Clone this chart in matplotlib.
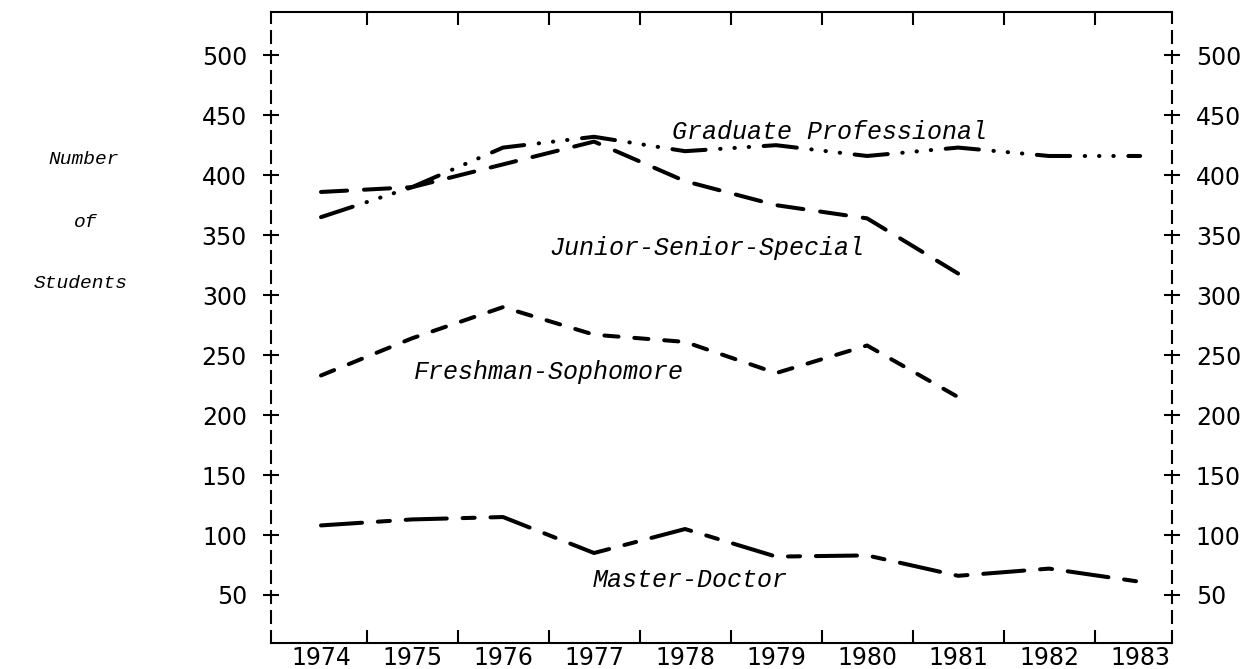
import numpy as np
import matplotlib
matplotlib.use("Agg")
import matplotlib.pyplot as plt

# values (number of students per year)
years = [1974, 1975, 1976, 1977, 1978, 1979, 1980, 1981, 1982, 1983]
graduate_prof = [365, 390, 423, 432, 420, 425, 416, 423, 416, 416]
junior_senior = [386, 390, 409, 428, 395, 375, 364, 318]
freshman_soph = [233, 264, 290, 267, 261, 235, 258, 215]
master_doctor = [108, 113, 115, 85, 105, 82, 83, 66, 72, 61]

y_ticks = [50, 100, 150, 200, 250, 300, 350, 400, 450, 500]

plt.rcParams['lines.scale_dashes'] = False

fig = plt.figure(figsize=(12.44, 6.69), dpi=100)
ax = fig.add_axes([0.2178, 0.0389, 0.9421 - 0.2178, 0.982 - 0.0389])

lw = 2.9
ax.plot(years, graduate_prof, color='black', lw=lw, dash_capstyle='round',
        dashes=(24, 10.5, 0.3, 10, 0.3, 10, 0.3, 10.5))
ax.plot(years[:len(junior_senior)], junior_senior, color='black', lw=lw,
        dash_capstyle='round', dashes=(18.8, 12.2))
ax.plot(years[:len(freshman_soph)], freshman_soph, color='black', lw=lw,
        dash_capstyle='round', dashes=(10.2, 11.4))
ax.plot(years, master_doctor, color='black', lw=lw, dash_capstyle='round',
        dashes=(29.6, 11.4, 8.7, 11.4))

ax.set_xlim(1973.45, 1983.35)
ax.set_ylim(10, 536)

# labels on the lines
label_font = dict(family='Liberation Mono', style='italic', size=18,
                  ha='center', va='center')
ax.text(1979.59, 436, 'Graduate Professional', **label_font)
ax.text(1978.24, 339, 'Junior-Senior-Special', **label_font)
ax.text(1976.5, 236, 'Freshman-Sophomore', **label_font)
ax.text(1978.06, 62.5, 'Master-Doctor', **label_font)

# spines: solid top/bottom, dashed sides
for side in ['left', 'right']:
    ax.spines[side].set_linestyle((0, (8.6, 5.8)))
    ax.spines[side].set_linewidth(1.5)
for side in ['top', 'bottom']:
    ax.spines[side].set_linewidth(1.5)

# x: year labels at centres, tick marks between years
ax.set_xticks(years)
ax.set_xticklabels([str(y) for y in years])
ax.set_xticks([y + 0.5 for y in years[:-1]], minor=True)
ax.tick_params(axis='x', which='major', length=0, pad=2, labelsize=17)
ax.tick_params(axis='x', which='minor', direction='in', length=9.4,
               width=1.5, top=True, bottom=True)

# y: crossing ticks on both sides with labels
ax.set_yticks(y_ticks)
ax.tick_params(axis='y', direction='inout', length=11.5, width=1.5,
               left=True, right=True, labelleft=True, labelright=True,
               labelsize=17, pad=11.5)

side_font = dict(family='Liberation Mono', style='italic', size=14,
                 ha='center', va='center')
fig.text(84 / 1244, 1 - 160 / 669, 'Number', **side_font)
fig.text(86 / 1244, 1 - 222 / 669, 'of', **side_font)
fig.text(81 / 1244, 1 - 283 / 669, 'Students', **side_font)

fig.savefig('out.png', dpi=100)
